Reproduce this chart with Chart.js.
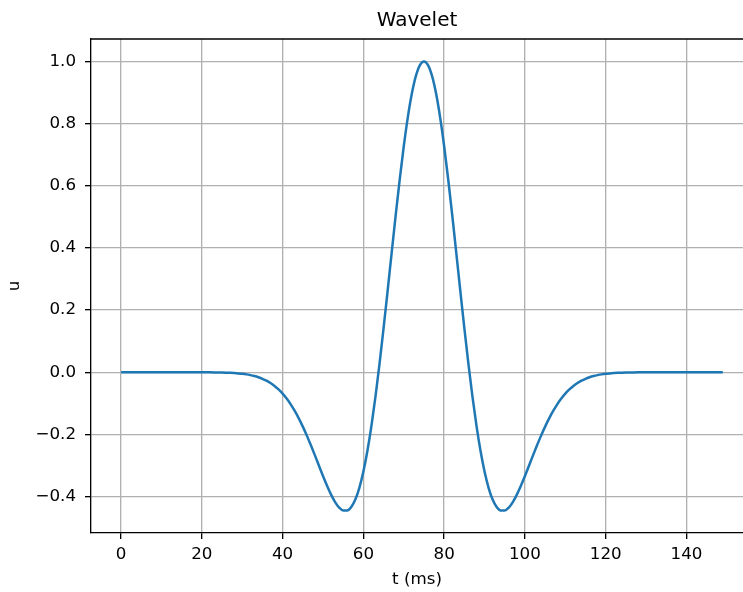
<!DOCTYPE html>
<html lang="en">
  <head>
    <meta charset="UTF-8" />
    <title>Wavelet</title>
    <script src="https://cdn.jsdelivr.net/npm/chart.js"></script>
    <style>
      html, body { margin: 0; padding: 0; background: #fff; }
      #wrap { width: 743px; height: 592px; }
    </style>
  </head>
  <body>
    <div id="wrap"><canvas id="myChart"></canvas></div>
    <script>
      // time samples (ms)
      const times = [
        0, 1, 2, 3, 4, 5, 6, 7, 8, 9, 10, 11, 12, 13, 14, 15, 16, 17, 18, 19, 20, 21, 22, 23, 24,
        25, 26, 27, 28, 29, 30, 31, 32, 33, 34, 35, 36, 37, 38, 39, 40, 41, 42, 43, 44, 45, 46, 47, 48, 49,
        50, 51, 52, 53, 54, 55, 56, 57, 58, 59, 60, 61, 62, 63, 64, 65, 66, 67, 68, 69, 70, 71, 72, 73, 74,
        75, 76, 77, 78, 79, 80, 81, 82, 83, 84, 85, 86, 87, 88, 89, 90, 91, 92, 93, 94, 95, 96, 97, 98, 99,
        100, 101, 102, 103, 104, 105, 106, 107, 108, 109, 110, 111, 112, 113, 114, 115, 116, 117, 118, 119, 120, 121, 122, 123, 124,
        125, 126, 127, 128, 129, 130, 131, 132, 133, 134, 135, 136, 137, 138, 139, 140, 141, 142, 143, 144, 145, 146, 147, 148, 149
      ];
      // wavelet amplitude
      const amplitude = [
        0, 0, 0, 0, 0, 0, 0, 0, 0, 0, 0, 0, 0, 0, -0.00001, -0.00002, -0.00003, -0.00004, -0.00007, -0.0001,
        -0.00015, -0.00022, -0.00032, -0.00047, -0.00068, -0.00097, -0.00137, -0.00193, -0.00268, -0.00369,
        -0.00505, -0.00685, -0.00919, -0.0122, -0.0161, -0.021, -0.0272, -0.0348, -0.0441, -0.0554,
        -0.0688, -0.0847, -0.1032, -0.1244, -0.1483, -0.1749, -0.2039, -0.235, -0.2675, -0.3007,
        -0.3337, -0.365, -0.3936, -0.4176, -0.4353, -0.445, -0.4449, -0.4336, -0.4096, -0.3718,
        -0.3194, -0.2526, -0.1716, -0.0776, 0.0277, 0.1418, 0.2618, 0.3842, 0.5053, 0.6209,
        0.7272, 0.8202, 0.8965, 0.9533, 0.9882, 1.0, 0.9882, 0.9533, 0.8965, 0.8202,
        0.7272, 0.6209, 0.5053, 0.3842, 0.2618, 0.1418, 0.0277, -0.0776, -0.1716, -0.2526,
        -0.3194, -0.3718, -0.4096, -0.4336, -0.4449, -0.445, -0.4353, -0.4176, -0.3936, -0.365,
        -0.3337, -0.3007, -0.2675, -0.235, -0.2039, -0.1749, -0.1483, -0.1244, -0.1032, -0.0847,
        -0.0688, -0.0554, -0.0441, -0.0348, -0.0272, -0.021, -0.0161, -0.0122, -0.00919, -0.00685,
        -0.00505, -0.00369, -0.00268, -0.00193, -0.00137, -0.00097, -0.00068, -0.00047, -0.00032, -0.00022,
        -0.00015, -0.0001, -0.00007, -0.00004, -0.00003, -0.00002, -0.00001, 0, 0, 0,
        0, 0, 0, 0, 0, 0, 0, 0, 0, 0
      ];
      const xTicks = [0, 20, 40, 60, 80, 100, 120, 140];
      const yTicks = [-0.4, -0.2, 0.0, 0.2, 0.4, 0.6, 0.8, 1.0];

      const font = { family: "DejaVu Sans", size: 16.7 };

      // matplotlib-style top spine
      const topSpine = {
        id: "topSpine",
        afterDraw(chart) {
          const { ctx, chartArea } = chart;
          ctx.save();
          ctx.strokeStyle = "#000";
          ctx.lineWidth = 1.33;
          ctx.beginPath();
          ctx.moveTo(chartArea.left, chartArea.top);
          ctx.lineTo(chartArea.right, chartArea.top);
          ctx.stroke();
          ctx.restore();
        },
      };

      const config = {
        type: "line",
        data: {
          datasets: [
            {
              data: times.map((t, i) => ({ x: t, y: amplitude[i] })),
              borderColor: "#1f77b4",
              borderWidth: 2.5,
              pointRadius: 0,
              cubicInterpolationMode: "monotone",
              fill: false,
            },
          ],
        },
        options: {
          responsive: true,
          maintainAspectRatio: false,
          animation: false,
          layout: { padding: 0 },
          plugins: {
            legend: { display: false },
            tooltip: { enabled: false },
            title: {
              display: true,
              text: "Wavelet",
              fullSize: false,
              color: "#000",
              font: { family: "DejaVu Sans", size: 20, weight: "normal" },
              padding: { top: 9, bottom: 6 },
            },
          },
          scales: {
            x: {
              type: "linear",
              min: -7.45,
              max: 154.0,
              afterBuildTicks: (scale) => {
                scale.ticks = xTicks.map((v) => ({ value: v }));
              },
              afterFit: (scale) => {
                scale.height = 59;
              },
              ticks: {
                color: "#000",
                font: font,
                padding: 6,
                maxRotation: 0,
                callback: (v) => String(v),
              },
              grid: {
                color: "#b0b0b0",
                lineWidth: 1.33,
                tickColor: "#000",
                tickLength: 6,
              },
              border: { display: true, color: "#000", width: 1.33 },
              title: {
                display: true,
                text: "t (ms)",
                color: "#000",
                font: font,
                padding: { top: 0, bottom: 2 },
              },
            },
            y: {
              type: "linear",
              min: -0.5172,
              max: 1.0722,
              afterBuildTicks: (scale) => {
                scale.ticks = yTicks.map((v) => ({ value: v }));
              },
              afterFit: (scale) => {
                scale.width = 91;
              },
              ticks: {
                color: "#000",
                font: font,
                padding: 9,
                callback: (v) => v.toFixed(1).replace("-", "\u2212"),
              },
              grid: {
                color: "#b0b0b0",
                lineWidth: 1.33,
                tickColor: "#000",
                tickLength: 6,
              },
              border: { display: true, color: "#000", width: 1.33 },
              title: {
                display: true,
                text: "u",
                color: "#000",
                font: font,
                padding: { top: 5, bottom: 0 },
              },
            },
          },
        },
        plugins: [topSpine],
      };
      const myChart = new Chart(document.getElementById("myChart"), config);
    </script>
  </body>
</html>
